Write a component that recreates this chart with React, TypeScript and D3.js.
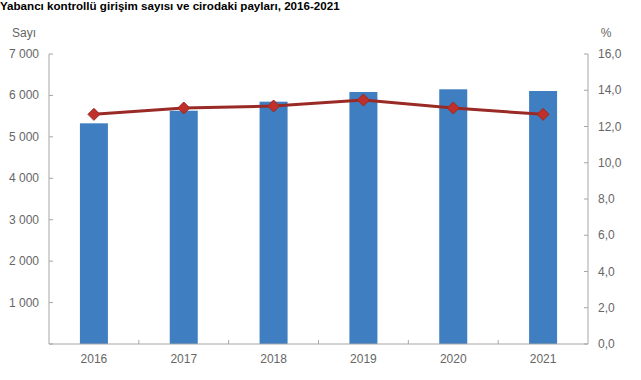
import React from "react";
import * as d3 from "d3";

const years = ["2016", "2017", "2018", "2019", "2020", "2021"];
const enterprises = [5327, 5631, 5849, 6083, 6148, 6107];
const turnoverShare = [12.67, 13.02, 13.13, 13.46, 13.02, 12.67];
const leftTicks = [0, 1000, 2000, 3000, 4000, 5000, 6000, 7000];
const rightTicks = [0, 2, 4, 6, 8, 10, 12, 14, 16];
const title = "Yabancı kontrollü girişim sayısı ve cirodaki payları, 2016-2021";

const W = 641, H = 380;
const L = 49, R = 588, T = 54, B = 344;

export default function App() {
  const x = d3.scaleBand<string>().domain(years).range([L, R]).paddingInner(0).paddingOuter(0);
  const yL = d3.scaleLinear().domain([0, 7000]).range([B, T]);
  const yR = d3.scaleLinear().domain([0, 16]).range([B, T]);
  const barW = 28;
  const fmtL = (v: number) => (v === 0 ? "" : d3.format(",")(v).replace(",", " "));
  const fmtR = (v: number) => v.toFixed(1).replace(".", ",");
  const line = d3
    .line<number>()
    .x((_, i) => (x(years[i]) as number) + x.bandwidth() / 2)
    .y((d) => yR(d));
  const axisColor = "#a6a6a6";
  const textColor = "#666666";
  const font = "Liberation Sans, Arial, sans-serif";
  return (
    <svg width={W} height={H} style={{ position: "absolute", left: 0, top: 0, display: "block" }} fontFamily={font}>
      <rect width={W} height={H} fill="#fff" />
      <text x={0} y={10} fontSize={11.6} fontWeight="bold" fill="#000">{title}</text>
      <text x={24} y={37} fontSize={12} fill={textColor} textAnchor="middle">Sayı</text>
      <text x={606} y={37} fontSize={12} fill={textColor} textAnchor="middle">%</text>
      {years.map((yr, i) => (
        <rect
          key={yr}
          x={(x(yr) as number) + x.bandwidth() / 2 - barW / 2}
          y={yL(enterprises[i])}
          width={barW}
          height={B - yL(enterprises[i])}
          fill="#3f7fc1"
        />
      ))}
      <line x1={L} x2={L} y1={T} y2={B} stroke={axisColor} />
      <line x1={R} x2={R} y1={T} y2={B} stroke={axisColor} />
      <line x1={L} x2={R} y1={B} y2={B} stroke={axisColor} />
      {leftTicks.map((t) => (
        <g key={"l" + t}>
          <line x1={L} x2={L + 4} y1={yL(t)} y2={yL(t)} stroke={axisColor} />
          <text x={39} y={yL(t) + 4} fontSize={12} fill={textColor} textAnchor="end">{fmtL(t)}</text>
        </g>
      ))}
      {rightTicks.map((t) => (
        <g key={"r" + t}>
          <line x1={R - 4} x2={R} y1={yR(t)} y2={yR(t)} stroke={axisColor} />
          <text x={598} y={yR(t) + 4} fontSize={12} fill={textColor} textAnchor="start">{fmtR(t)}</text>
        </g>
      ))}
      {years.slice(1).map((yr) => (
        <line key={"xt" + yr} x1={x(yr) as number} x2={x(yr) as number} y1={B} y2={B - 4} stroke={axisColor} />
      ))}
      {years.map((yr) => (
        <text key={"xl" + yr} x={(x(yr) as number) + x.bandwidth() / 2} y={363} fontSize={12} fill={textColor} textAnchor="middle">{yr}</text>
      ))}
      <path d={line(turnoverShare) as string} fill="none" stroke="#9a2a26" strokeWidth={3} />
      {turnoverShare.map((v, i) => {
        const cx = (x(years[i]) as number) + x.bandwidth() / 2;
        const cy = yR(v);
        const s = 6;
        return (
          <path
            key={"m" + i}
            d={`M${cx},${cy - s}L${cx + s},${cy}L${cx},${cy + s}L${cx - s},${cy}Z`}
            fill="#c0302a"
            stroke="#9a2a26"
            strokeWidth={1}
          />
        );
      })}
    </svg>
  );
}
